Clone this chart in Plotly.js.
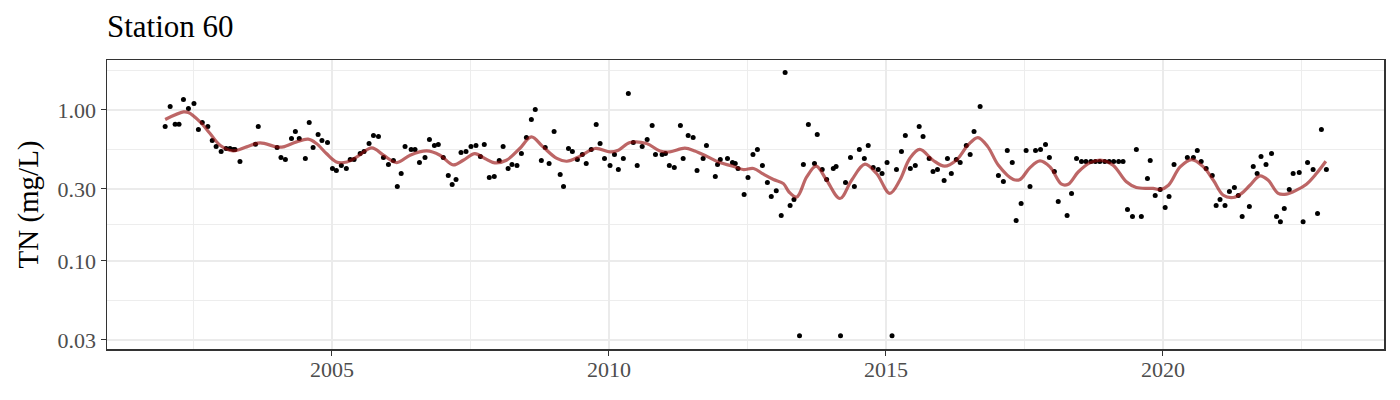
<!DOCTYPE html>
<html>
<head>
<meta charset="utf-8">
<script src="https://cdn.plot.ly/plotly-3.0.1.min.js"></script>
<style>
  body { margin: 0; background: #fff; }
  #tn-chart { width: 1400px; height: 400px; }
</style>
</head>
<body>
<div id="tn-chart"></div>
<script>
// Sample dates (decimal year) and TN readings
const sampleYears = [
  2001.99, 2002.08, 2002.17, 2002.24, 2002.32, 2002.41, 2002.51, 2002.59, 2002.66, 2002.76,
  2002.84, 2002.91, 2003.00, 2003.09, 2003.16, 2003.22, 2003.25, 2003.34, 2003.62, 2003.67,
  2004.01, 2004.08, 2004.16, 2004.27, 2004.34, 2004.41, 2004.52, 2004.59, 2004.66, 2004.75,
  2004.82, 2004.92, 2005.01, 2005.08, 2005.17, 2005.26, 2005.33, 2005.40, 2005.51, 2005.58,
  2005.67, 2005.75, 2005.84, 2005.93, 2006.02, 2006.11, 2006.18, 2006.25, 2006.32, 2006.43,
  2006.50, 2006.58, 2006.68, 2006.76, 2006.85, 2006.92, 2007.01, 2007.10, 2007.17, 2007.24,
  2007.33, 2007.42, 2007.51, 2007.60, 2007.68, 2007.75, 2007.84, 2007.93, 2008.02, 2008.09,
  2008.18, 2008.25, 2008.34, 2008.42, 2008.51, 2008.60, 2008.67, 2008.78, 2008.85, 2008.92,
  2009.01, 2009.12, 2009.18, 2009.27, 2009.34, 2009.43, 2009.52, 2009.59, 2009.68, 2009.77,
  2009.84, 2009.92, 2010.02, 2010.10, 2010.17, 2010.26, 2010.35, 2010.44, 2010.51, 2010.60,
  2010.69, 2010.78, 2010.84, 2010.96, 2011.02, 2011.09, 2011.18, 2011.29, 2011.34, 2011.43,
  2011.52, 2011.59, 2011.70, 2011.76, 2011.92, 2011.96, 2012.01, 2012.14, 2012.23, 2012.28,
  2012.33, 2012.44, 2012.51, 2012.60, 2012.68, 2012.77, 2012.86, 2012.93, 2013.02, 2013.11,
  2013.18, 2013.27, 2013.34, 2013.44, 2013.51, 2013.60, 2013.71, 2013.76, 2013.85, 2013.93,
  2014.05, 2014.10, 2014.18, 2014.27, 2014.36, 2014.43, 2014.52, 2014.61, 2014.68, 2014.77,
  2014.86, 2014.93, 2015.02, 2015.11, 2015.19, 2015.28, 2015.35, 2015.44, 2015.53, 2015.60,
  2015.67, 2015.78, 2015.85, 2015.93, 2016.05, 2016.11, 2016.18, 2016.27, 2016.34, 2016.45,
  2016.52, 2016.59, 2016.70, 2017.03, 2017.12, 2017.19, 2017.28, 2017.35, 2017.44, 2017.53,
  2017.60, 2017.70, 2017.79, 2017.88, 2017.95, 2018.04, 2018.11, 2018.27, 2018.35, 2018.44,
  2018.53, 2018.61, 2018.70, 2018.78, 2018.86, 2018.95, 2019.03, 2019.11, 2019.20, 2019.28,
  2019.36, 2019.45, 2019.52, 2019.61, 2019.72, 2019.77, 2019.86, 2019.95, 2020.04, 2020.11,
  2020.20, 2020.44, 2020.55, 2020.62, 2020.69, 2020.78, 2020.89, 2020.96, 2021.03, 2021.12,
  2021.20, 2021.29, 2021.36, 2021.43, 2021.56, 2021.63, 2021.70, 2021.77, 2021.86, 2021.96,
  2022.05, 2022.12, 2022.19, 2022.28, 2022.35, 2022.46, 2022.53, 2022.61, 2022.71, 2022.79,
  2022.86, 2022.95
];

const sampleTN = [
  0.776, 1.053, 0.804, 0.804, 1.172, 1.022, 1.102, 0.742, 0.825, 0.776,
  0.627, 0.572, 0.530, 0.555, 0.555, 0.547, 0.547, 0.455, 0.593, 0.776,
  0.564, 0.484, 0.469, 0.647, 0.719, 0.647, 0.477, 0.825, 0.564, 0.687,
  0.627, 0.608, 0.409, 0.397, 0.428, 0.409, 0.469, 0.469, 0.514, 0.530,
  0.599, 0.677, 0.667, 0.484, 0.435, 0.462, 0.311, 0.379, 0.572, 0.547,
  0.547, 0.448, 0.484, 0.637, 0.581, 0.590, 0.484, 0.368, 0.321, 0.346,
  0.522, 0.530, 0.572, 0.581, 0.491, 0.590, 0.357, 0.362, 0.462, 0.572,
  0.409, 0.435, 0.428, 0.514, 0.656, 0.864, 1.006, 0.462, 0.564, 0.442,
  0.719, 0.373, 0.311, 0.555, 0.530, 0.469, 0.507, 0.442, 0.547, 0.800,
  0.599, 0.477, 0.428, 0.507, 0.403, 0.477, 1.284, 0.608, 0.428, 0.572,
  0.637, 0.788, 0.507, 0.507, 0.514, 0.428, 0.415, 0.788, 0.477, 0.677,
  0.656, 0.397, 0.477, 0.581, 0.362, 0.435, 0.469, 0.477, 0.448, 0.442,
  0.409, 0.275, 0.357, 0.507, 0.547, 0.428, 0.331, 0.267, 0.292, 0.200,
  1.769, 0.233, 0.255, 0.032, 0.435, 0.800, 0.442, 0.687, 0.403, 0.346,
  0.409, 0.422, 0.032, 0.331, 0.484, 0.311, 0.547, 0.477, 0.581, 0.415,
  0.403, 0.379, 0.448, 0.032, 0.403, 0.530, 0.677, 0.409, 0.428, 0.776,
  0.667, 0.477, 0.391, 0.403, 0.341, 0.477, 0.379, 0.469, 0.448, 0.581,
  0.507, 0.719, 1.053, 0.368, 0.336, 0.538, 0.448, 0.185, 0.240, 0.538,
  0.311, 0.538, 0.547, 0.590, 0.484, 0.391, 0.247, 0.200, 0.280, 0.477,
  0.455, 0.455, 0.455, 0.455, 0.455, 0.455, 0.455, 0.455, 0.455, 0.455,
  0.219, 0.197, 0.547, 0.197, 0.351, 0.462, 0.271, 0.297, 0.226, 0.267,
  0.435, 0.484, 0.484, 0.538, 0.455, 0.409, 0.368, 0.233, 0.255, 0.233,
  0.288, 0.306, 0.271, 0.197, 0.229, 0.422, 0.379, 0.491, 0.435, 0.514,
  0.197, 0.182, 0.222, 0.297, 0.379, 0.385, 0.182, 0.448, 0.403, 0.206,
  0.742, 0.403
];

// Smoothed trend (GAM fit)
const trendYears = [
  2001.99, 2002.32, 2002.41, 2002.62, 2002.80, 2002.98, 2003.22, 2003.46, 2003.70, 2004.00,
  2004.12, 2004.36, 2004.57, 2004.72, 2004.90, 2005.08, 2005.27, 2005.45, 2005.72, 2005.93,
  2006.17, 2006.41, 2006.71, 2006.95, 2007.19, 2007.37, 2007.58, 2007.76, 2007.94, 2008.15,
  2008.39, 2008.60, 2008.81, 2009.06, 2009.24, 2009.48, 2009.75, 2010.02, 2010.17, 2010.38,
  2010.68, 2010.92, 2011.10, 2011.37, 2011.55, 2011.76, 2012.00, 2012.24, 2012.42, 2012.61,
  2012.79, 2012.97, 2013.15, 2013.25, 2013.39, 2013.57, 2013.74, 2013.93, 2014.17, 2014.38,
  2014.62, 2014.83, 2015.07, 2015.25, 2015.43, 2015.61, 2015.85, 2016.06, 2016.27, 2016.48,
  2016.66, 2016.84, 2017.03, 2017.30, 2017.42, 2017.60, 2017.78, 2017.96, 2018.17, 2018.29,
  2018.47, 2018.68, 2018.89, 2019.10, 2019.34, 2019.52, 2019.82, 2019.95, 2020.10, 2020.31,
  2020.52, 2020.73, 2020.91, 2021.09, 2021.27, 2021.42, 2021.57, 2021.75, 2021.90, 2022.08,
  2022.23, 2022.41, 2022.59, 2022.77, 2022.94
];

const trendTN = [
  0.864, 0.970, 0.961, 0.833, 0.698, 0.584, 0.535, 0.569, 0.605, 0.569,
  0.569, 0.614, 0.640, 0.599, 0.514, 0.452, 0.452, 0.488, 0.560, 0.501,
  0.448, 0.501, 0.535, 0.501, 0.432, 0.464, 0.514, 0.477, 0.446, 0.464,
  0.555, 0.663, 0.569, 0.477, 0.457, 0.494, 0.555, 0.527, 0.541, 0.608,
  0.599, 0.535, 0.527, 0.558, 0.535, 0.494, 0.448, 0.424, 0.403, 0.409,
  0.375, 0.346, 0.325, 0.286, 0.265, 0.360, 0.424, 0.342, 0.259, 0.342,
  0.437, 0.379, 0.280, 0.342, 0.477, 0.547, 0.464, 0.424, 0.464, 0.584,
  0.656, 0.569, 0.430, 0.346, 0.346, 0.415, 0.459, 0.419, 0.322, 0.322,
  0.388, 0.446, 0.464, 0.430, 0.334, 0.306, 0.302, 0.297, 0.317, 0.419,
  0.469, 0.419, 0.342, 0.272, 0.263, 0.280, 0.317, 0.366, 0.342, 0.280,
  0.277, 0.294, 0.322, 0.379, 0.457
];

// Axis breaks
const yearTicks = [2005, 2010, 2015, 2020];
const tnTicks = [0.03, 0.1, 0.3, 1];
const tnTickLabels = ['0.03', '0.10', '0.30', '1.00'];
const tnMinorTicks = [0.0548, 0.1732, 0.5477, 1.826];

var chartDiv = document.getElementById('tn-chart');

var serif = 'Liberation Serif, Times New Roman, serif';
var gridColor = '#EBEBEB';
var axisColor = '#333333';

var pointTrace = {
  x: sampleYears,
  y: sampleTN,
  type: 'scatter',
  mode: 'markers',
  marker: { color: '#000000', size: 5 },
  hoverinfo: 'x+y',
};

var trendTrace = {
  x: trendYears,
  y: trendTN,
  type: 'scatter',
  mode: 'lines',
  line: { color: 'rgba(150,12,12,0.63)', width: 3.2, shape: 'spline', smoothing: 1 },
  hoverinfo: 'skip',
};

var layout = {
  width: 1400,
  height: 400,
  showlegend: false,
  plot_bgcolor: '#FFFFFF',
  paper_bgcolor: '#FFFFFF',
  margin: { t: 60, b: 51, l: 107, r: 16, pad: 0 },
  font: { family: serif, color: '#000000' },
  title: {
    text: 'Station 60',
    font: { family: serif, size: 31, color: '#000000' },
    x: 0,
    xref: 'paper',
    xanchor: 'left',
    y: 0.935,
    yref: 'container',
    yanchor: 'middle',
  },
  xaxis: {
    type: 'linear',
    range: [2000.94, 2023.99],
    tickmode: 'array',
    tickvals: yearTicks,
    ticktext: yearTicks.map(String),
    ticks: 'outside',
    ticklen: 5,
    tickwidth: 1.1,
    tickcolor: axisColor,
    tickfont: { family: serif, size: 22, color: '#4D4D4D' },
    ticklabelstandoff: -5,
    showgrid: true,
    gridcolor: gridColor,
    gridwidth: 1.5,
    minor: { dtick: 2.5, tick0: 0, showgrid: true, gridcolor: gridColor, gridwidth: 0.9, ticks: '' },
    zeroline: false,
    showline: true,
    mirror: true,
    linecolor: axisColor,
    linewidth: 1.5,
  },
  yaxis: {
    type: 'log',
    range: [Math.log10(0.0261), Math.log10(2.14)],
    tickmode: 'array',
    tickvals: tnTicks,
    ticktext: tnTickLabels,
    ticks: 'outside',
    ticklen: 5,
    tickwidth: 1.1,
    tickcolor: axisColor,
    tickfont: { family: serif, size: 22, color: '#4D4D4D' },
    showgrid: true,
    gridcolor: gridColor,
    gridwidth: 1.5,
    minor: { tickmode: 'array', tickvals: tnMinorTicks, showgrid: true, gridcolor: gridColor, gridwidth: 0.9, ticks: '' },
    zeroline: false,
    showline: true,
    mirror: true,
    linecolor: axisColor,
    linewidth: 1.5,
    title: {
      text: 'TN (mg/L)',
      font: { family: serif, size: 29, color: '#000000' },
      standoff: 10,
    },
    automargin: false,
  },
};

var config = { responsive: false, displayModeBar: false, staticPlot: true };

Plotly.newPlot(chartDiv, [pointTrace, trendTrace], layout, config);
</script>
</body>
</html>
